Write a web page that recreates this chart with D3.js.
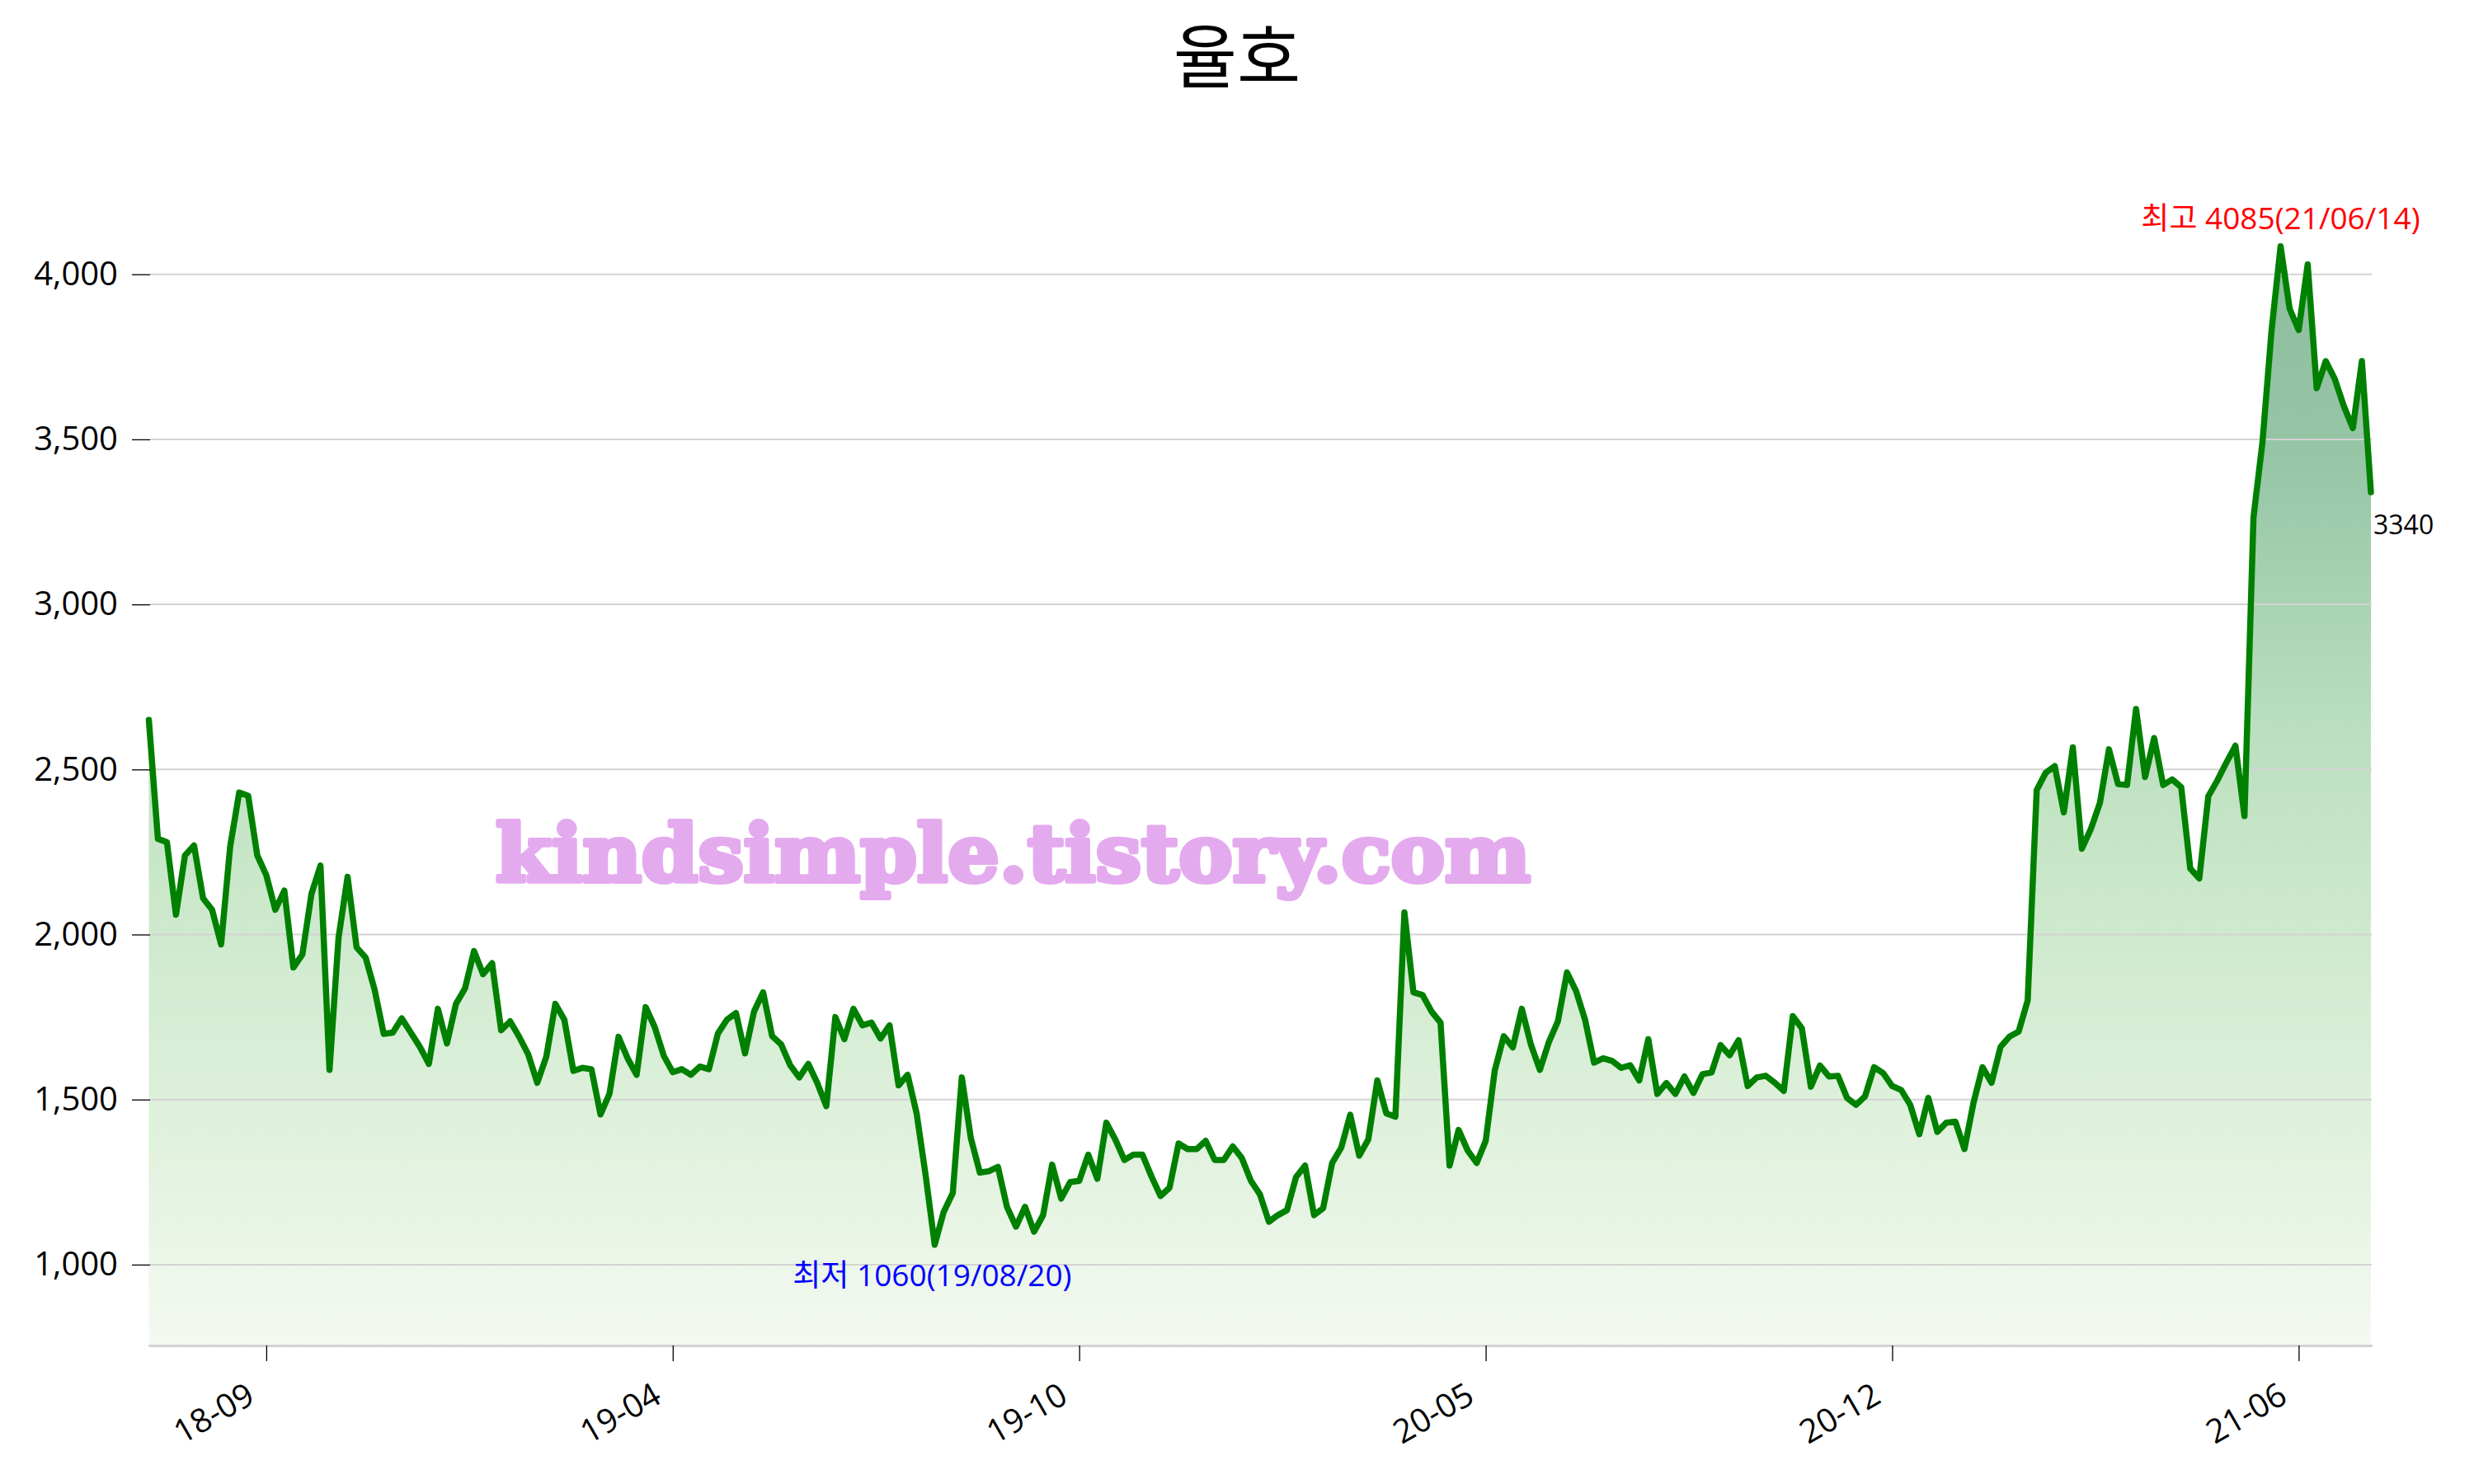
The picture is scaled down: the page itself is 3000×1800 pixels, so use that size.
<!DOCTYPE html>
<html><head><meta charset="utf-8">
<script src="https://cdn.jsdelivr.net/npm/d3@7"></script>
<style>body{margin:0;background:#fff}svg{display:block}</style>
</head><body>
<script>
const title = "율호";
const prices = [
2650,2290,2280,2060,2240,2270,2110,2075,1970,2266,
2430,2420,2240,2180,2075,2133,1900,1940,2123,2209,
1590,1990,2175,1961,1930,1832,1699,1703,1746,1703,
1660,1608,1775,1670,1790,1837,1950,1880,1913,1710,
1737,1690,1637,1551,1630,1790,1742,1587,1596,1592,
1455,1518,1690,1625,1575,1780,1720,1633,1583,1592,
1575,1600,1592,1700,1742,1762,1640,1767,1825,1692,
1667,1604,1567,1608,1550,1480,1750,1683,1775,1725,
1733,1685,1725,1543,1575,1458,1270,1060,1160,1217,
1567,1383,1279,1283,1296,1175,1115,1175,1100,1150,
1303,1200,1250,1254,1333,1260,1430,1379,1317,1333,
1333,1267,1208,1233,1367,1350,1350,1375,1317,1317,
1358,1323,1254,1213,1130,1150,1165,1265,1300,1150,
1171,1308,1354,1454,1330,1379,1558,1458,1448,2067,
1825,1817,1767,1733,1300,1408,1346,1308,1375,1588,
1692,1658,1775,1667,1590,1675,1738,1885,1829,1742,
1612,1625,1617,1596,1604,1558,1683,1517,1550,1517,
1570,1520,1577,1582,1665,1634,1680,1541,1567,1572,
1551,1526,1753,1716,1539,1603,1570,1572,1505,1484,
1510,1598,1580,1541,1529,1484,1395,1505,1402,1430,
1433,1350,1490,1598,1551,1660,1691,1706,1800,2438,
2490,2510,2370,2567,2260,2320,2399,2561,2456,2453,
2683,2477,2595,2453,2470,2446,2200,2170,2419,2467,
2521,2572,2359,3264,3493,3830,4085,3896,3831,4030,
3655,3737,3683,3601,3534,3737,3340
];
const tickIndex = [13, 58, 103, 148, 193, 238];
const tickLabels = ["18-09", "19-04", "19-10", "20-05", "20-12", "21-06"];
const yTicks = [1000, 1500, 2000, 2500, 3000, 3500, 4000];
const highDate = "21/06/14";
const lowDate = "19/08/20";
const watermark = "kindsimple.tistory.com";

(function () {
const W = 3000, H = 1800;
const mLeft = 180.5, mRight = 2875, mBottom = 1632, mTop = 212.6;
const font = "'Open Sans','Noto Sans CJK KR',sans-serif";

const svg = d3.select("body").append("svg").attr("width", W).attr("height", H)
  .style("font-family", font);

const x = d3.scaleLinear().domain([0, prices.length - 1]).range([mLeft, mRight]);
const y = d3.scaleLinear().domain([755, 4300]).range([mBottom, mTop]);

const maxIdx = d3.maxIndex(prices), minIdx = d3.minIndex(prices);
const lastIdx = prices.length - 1;

// gradient
const defs = svg.append("defs");
const grad = defs.append("linearGradient").attr("id", "ag")
  .attr("gradientUnits", "userSpaceOnUse")
  .attr("x1", 0).attr("x2", 0)
  .attr("y1", y(prices[maxIdx])).attr("y2", mBottom);
[[0, "#8cbd9d"], [0.2, "#97c6a6"], [0.43, "#b9debe"], [0.57, "#c9e7c9"], [0.82, "#e1f2de"], [1, "#f4f9f1"]]
  .forEach(s => grad.append("stop").attr("offset", s[0]).attr("stop-color", s[1]));

// area
svg.append("path").datum(prices)
  .attr("fill", "url(#ag)")
  .attr("d", d3.area().x((d, i) => x(i)).y0(mBottom).y1(d => y(d)));

// gridlines
svg.append("g").selectAll("line").data(yTicks).join("line")
  .attr("x1", 182).attr("x2", 2876)
  .attr("y1", d => y(d)).attr("y2", d => y(d))
  .attr("stroke", "#d3d3d3").attr("stroke-width", 2);

// line
svg.append("path").datum(prices)
  .attr("fill", "none").attr("stroke", "#008000").attr("stroke-width", 7.5)
  .attr("stroke-linejoin", "round").attr("stroke-linecap", "round")
  .attr("d", d3.line().x((d, i) => x(i)).y(d => y(d)));

// y axis
const ya = svg.append("g").attr("transform", "translate(182,0)")
  .call(d3.axisLeft(y).tickValues(yTicks).tickSize(22).tickPadding(17).tickFormat(d3.format(",")));
ya.select(".domain").remove();
ya.selectAll(".tick line").attr("stroke", "#000").attr("stroke-width", 1.3);
ya.selectAll(".tick text").attr("font-size", 40).attr("fill", "#000").style("font-family", font);

// x axis
const xa = svg.append("g").attr("transform", `translate(0,${mBottom})`)
  .call(d3.axisBottom(x).tickValues(tickIndex).tickSize(19).tickSizeOuter(0)
    .tickFormat((d, i) => tickLabels[i]));
xa.select(".domain").attr("stroke", "#d3d3d3").attr("stroke-width", 3)
  .attr("d", `M${mLeft},0.5H2877`);
xa.selectAll(".tick line").attr("stroke", "#000").attr("stroke-width", 1.3);
xa.selectAll(".tick text")
  .attr("x", 0).attr("y", 0).attr("dy", 0)
  .attr("transform", "translate(-12,68) rotate(-30)")
  .attr("text-anchor", "end")
  .attr("font-size", 40).attr("fill", "#000").style("font-family", font);

// watermark
svg.append("text").text(watermark)
  .attr("x", 601).attr("y", 1069)
  .attr("font-size", 96).attr("font-weight", "bold")
  .style("font-family", "'DejaVu Serif',serif")
  .attr("fill", "#e4aaee").attr("stroke", "#e4aaee").attr("stroke-width", 6)
  .attr("stroke-linejoin", "round")
  .attr("textLength", 1255).attr("lengthAdjust", "spacingAndGlyphs");

// title
svg.append("text").text(title)
  .attr("x", 1500).attr("y", 100).attr("text-anchor", "middle")
  .attr("font-size", 84).style("font-family", "'Noto Sans CJK KR',sans-serif").attr("fill", "#000");

// annotations
svg.append("text").text(`최고 ${prices[maxIdx]}(${highDate})`)
  .attr("x", x(maxIdx)).attr("y", y(prices[maxIdx]) - 21)
  .attr("text-anchor", "middle").attr("font-size", 37).attr("fill", "red");
svg.append("text").text(`최저 ${prices[minIdx]}(${lowDate})`)
  .attr("x", x(minIdx) - 3).attr("y", y(prices[minIdx]) + 50)
  .attr("text-anchor", "middle").attr("font-size", 37).attr("fill", "blue");
svg.append("text").text(`${prices[lastIdx]}`)
  .attr("x", x(lastIdx) + 3).attr("y", y(prices[lastIdx]) + 51)
  .attr("text-anchor", "start").attr("font-size", 32).attr("fill", "#000");
})();
</script>
</body></html>
